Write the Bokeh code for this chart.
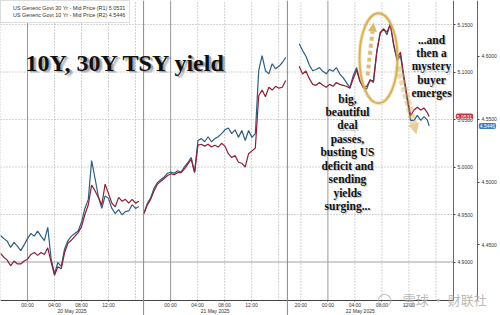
import numpy as np
from bokeh.plotting import figure
from bokeh.models import (Range1d, LinearAxis, FixedTicker, Span, Label, Legend, LegendItem,
                          Arrow, NormalHead, ColumnDataSource, NumeralTickFormatter)
from bokeh.embed import file_html
from bokeh.resources import INLINE

NaN = float("nan")

# trading-time axis (hours on the compressed session timeline)
hours = [0.0, 0.5, 1.0, 1.5, 2.0, 2.5, 3.0, 3.5, 4.0, 4.5, 5.0, 5.5, 6.0, 6.5, 7.0, 7.5, 8.0, 8.5, 9.0, 9.5,
         10.0, 10.5, 11.0, 11.5, 12.0, 12.5, 13.0, 13.5, 14.0, 14.5, 15.0, 15.5, 16.0, 16.5, 17.0, 17.5,
         18.0, 18.5, 19.0, 19.5, 20.0, 20.5, 21.0,
         21.25, 21.75, 22.25, 22.75, 23.25, 23.75, 24.25, 24.75, 25.25, 25.75, 26.25, 26.75, 27.25, 27.75,
         28.25, 28.75, 29.25, 29.75, 30.25, 30.75, 31.25, 31.75, 32.25, 32.75, 33.25, 33.75, 34.25, 34.75,
         35.25, 35.75, 36.25, 36.75, 37.25, 37.75, 38.25, 38.75, 39.25, 39.75, 40.25, 40.75, 41.25, 41.75,
         42.25, 42.75,
         44.25, 44.75, 45.25, 45.75, 46.25, 46.75, 47.25, 47.75, 48.25, 48.75, 49.25, 49.75, 50.25, 50.75,
         51.25, 51.75, 52.25, 52.75, 53.25, 53.75, 54.25, 54.75, 55.25, 55.75, 56.25, 56.75, 57.25, 57.75,
         58.25, 58.75, 59.25, 59.75, 60.25, 60.75, 61.25, 61.75, 62.25, 62.75, 63.25, 63.5]

y30 = [4.909, 4.905, 4.902, 4.896, 4.901, 4.898, 4.898, 4.901, 4.903, 4.908, 4.910, 4.907, 4.910, 4.908,
       4.915, 4.900, 4.886, 4.895, 4.893, 4.910, 4.920, 4.923, 4.927, 4.931, 4.937, 4.950, 4.960, 4.981,
       4.975, 4.968, 4.960, 4.982, 4.972, 4.962, 4.958, 4.968, 4.964, 4.966, 4.962, 4.966, 4.962, 4.964, NaN,
       4.951, 4.960, 4.966, 4.975, 4.982, 4.985, 4.988, 4.991, 4.993, 4.992, 4.994, 4.994, 4.998, 5.003,
       5.008, 4.994, 5.023, 5.024, 5.022, 5.024, 5.021, 5.023, 5.021, 5.025, 5.022, 5.014, 5.010, 5.012,
       5.005, 5.004, 5.000, 5.014, 5.017, 5.020, 5.075, 5.081, 5.074, 5.084, 5.081, 5.085, 5.083, 5.084,
       5.091, NaN,
       5.106, 5.098, 5.101, 5.093, 5.087, 5.086, 5.089, 5.086, 5.084, 5.087, 5.085, 5.089, 5.087, 5.086,
       5.085, 5.083, 5.093, 5.102, 5.090, 5.084, 5.085, 5.091, 5.091, 5.121, 5.141, 5.145, 5.142, 5.150,
       5.129, 5.114, 5.121, 5.096, 5.074, 5.054, 5.060, 5.063, 5.060, 5.062, 5.057, 5.0531]

y10 = [4.4575, 4.455, 4.453, 4.448, 4.452, 4.449, 4.4455, 4.450, 4.455, 4.459, 4.457, 4.461, 4.457, 4.4535,
       4.464, 4.439, 4.427, 4.436, 4.433, 4.447, 4.4535, 4.457, 4.459, 4.461, 4.468, 4.479, 4.486, 4.517,
       4.503, 4.4885, 4.479, 4.489, 4.487, 4.479, 4.475, 4.478, 4.474, 4.4765, 4.477, 4.482, 4.479, 4.4805, NaN,
       4.475, 4.483, 4.4875, 4.495, 4.4995, 4.502, 4.504, 4.507, 4.508, 4.507, 4.509, 4.508, 4.512, 4.5155,
       4.5195, 4.508, 4.533, 4.5345, 4.532, 4.536, 4.532, 4.5345, 4.536, 4.5385, 4.5415, 4.543, 4.5385, 4.5415,
       4.5355, 4.541, 4.533, 4.541, 4.5355, 4.5385, 4.5885, 4.6005, 4.5885, 4.586, 4.594, 4.590, 4.592, 4.595,
       4.599, NaN,
       4.610, 4.6045, 4.600, 4.593, 4.5885, 4.5895, 4.591, 4.588, 4.586, 4.5895, 4.588, 4.591, 4.586, 4.583,
       4.579, 4.575, 4.5845, 4.591, 4.5805, 4.575, 4.574, 4.5815, 4.579, 4.6045, 4.619, 4.622, 4.617, 4.626,
       4.6085, 4.5965, 4.6005, 4.582, 4.565, 4.549, 4.549, 4.553, 4.549, 4.552, 4.549, 4.5446]

time_ticks = [4, 8, 12, 16, 25.2, 29.2, 33.2, 37.2, 44.5, 48.5, 52.5, 56.5, 60.5]
time_labels = ["00:00", "04:00", "08:00", "12:00", "00:00", "04:00", "08:00", "12:00",
               "20:00", "00:00", "04:00", "08:00", "12:00"]
dotted_grid = [0, 8, 12, 16, 20, 29.2, 33.2, 37.2, 41.2, 44.5, 52.5, 56.5, 60.5, 64.5]
midnights = [4, 25.2, 48.5]
session_breaks = [21.2, 42.5]
date_centers = [10.6, 31.8, 53.3]
date_labels = ["20 May 2025", "21 May 2025", "22 May 2025"]
r1_ticks = [4.90, 4.95, 5.00, 5.05, 5.10, 5.15]
r2_ticks = [4.45, 4.50, 4.55, 4.60]
last30 = 5.0531
last10 = 4.5446

# plotting area bounds (R1 units / trading hours)
X_END, X_R2 = 67.1, 70.67
Y_BOT, Y_TOP = 4.8595, 5.1753
R2_BOT, R2_TOP = 4.4058, 4.6443

RED = "#8E1F35"
BLUE = "#2F5E82"
GOLD = "#D6AE52"
FONT = "Liberation Sans"
SERIF = "Liberation Serif"

p = figure(width=500, height=315, output_backend="svg", toolbar_location=None,
           x_range=Range1d(0, 74.07), y_range=Range1d(4.8437, Y_TOP),
           y_axis_location="right", min_border_left=0, min_border_top=0,
           min_border_right=0, min_border_bottom=0)
p.extra_y_ranges = {"r2": Range1d(4.3939, R2_TOP)}
p.outline_line_color = None
p.background_fill_color = "white"
p.grid.visible = False

# grid lines limited to the plotting area
n_h = len(r1_ticks) - 1
p.segment(x0=[0] * n_h, x1=[X_END] * n_h, y0=r1_ticks[1:], y1=r1_ticks[1:],
          line_color="#a8a8a8", line_dash="1 2", line_width=1)
p.segment(x0=[0], x1=[X_END], y0=r1_ticks[:1], y1=r1_ticks[:1],
          line_color="#444444", line_dash="1 1", line_width=1)
n_v = len(dotted_grid)
p.segment(x0=dotted_grid, x1=dotted_grid, y0=[Y_BOT] * n_v, y1=[Y_TOP] * n_v,
          line_color="#a8a8a8", line_dash="1 2", line_width=1)
n_m = len(midnights)
p.segment(x0=midnights, x1=midnights, y0=[Y_BOT] * n_m, y1=[Y_TOP] * n_m,
          line_color="#999999", line_width=1)
for s in session_breaks:
    p.add_layout(Span(location=s, dimension="height", line_color="#888888", line_width=1))

# axes (drawn at fixed locations inside the canvas)
xa = p.xaxis[0]
xa.fixed_location = Y_BOT
xa.bounds = (0, X_END)
xa.ticker = FixedTicker(ticks=time_ticks)
xa.major_label_overrides = {t: l for t, l in zip(time_ticks, time_labels)}
xa.major_label_text_font = FONT
xa.major_label_text_font_size = "5px"
xa.major_label_text_color = "#333333"
xa.major_tick_out = 1
xa.major_tick_in = 0
xa.major_tick_line_color = "#555555"
xa.minor_tick_line_color = None
xa.major_label_standoff = 1
xa.axis_line_color = "#444444"

da = LinearAxis(fixed_location=Y_BOT, ticker=FixedTicker(ticks=date_centers),
                major_label_overrides={c: l for c, l in zip(date_centers, date_labels)},
                axis_line_color=None, major_tick_line_color=None, minor_tick_line_color=None,
                major_tick_out=0, major_label_standoff=8, major_label_text_font=FONT,
                major_label_text_font_size="5px", major_label_text_color="#333333")
p.add_layout(da, "below")

ya = p.yaxis[0]
ya.fixed_location = X_END
ya.bounds = (Y_BOT, Y_TOP)
ya.ticker = FixedTicker(ticks=r1_ticks)
ya.formatter = NumeralTickFormatter(format="0.0000")
ra = LinearAxis(y_range_name="r2", fixed_location=X_R2, bounds=(R2_BOT, R2_TOP),
                ticker=FixedTicker(ticks=r2_ticks), formatter=NumeralTickFormatter(format="0.0000"))
p.add_layout(ra, "right")
for ax in (ya, ra):
    ax.major_label_text_font = FONT
    ax.major_label_text_font_size = "5px"
    ax.major_label_text_color = "#333333"
    ax.major_tick_out = 2
    ax.major_tick_in = 0
    ax.major_tick_line_color = "#444444"
    ax.minor_tick_line_color = None
    ax.axis_line_color = "#666666"
    ax.major_label_standoff = 2

# series
src = ColumnDataSource(dict(h=np.array(hours), y30=np.array(y30), y10=np.array(y10)))
r10 = p.line("h", "y10", source=src, y_range_name="r2", line_color=BLUE, line_width=1.2)
r30 = p.line("h", "y30", source=src, line_color=RED, line_width=1.2)

# legend
sq30 = p.scatter(x=[], y=[], marker="square", size=5, fill_color="#8B1A2E", line_color="#5a1020")
sq10 = p.scatter(x=[], y=[], marker="square", size=5, fill_color="#2D6296", line_color="#1d3f60")
legend = Legend(items=[
    LegendItem(label=f"US Generic Govt 30 Yr - Mid Price (R1) {last30:.4f}", renderers=[sq30]),
    LegendItem(label=f"US Generic Govt 10 Yr - Mid Price (R2) {last10:.4f}", renderers=[sq10]),
], location="top_left", margin=0, padding=4, spacing=1, glyph_width=5, glyph_height=5,
    label_height=5, label_standoff=3, label_text_font=FONT, label_text_font_size="5.4px",
    label_text_color="#333333", border_line_color="#bbbbbb", background_fill_alpha=1)
p.add_layout(legend)

# title with shadow
title_txt = "10Y, 30Y TSY yield"
for dx, dy, a in [(0.45, -0.0030, 0.3), (0.3, -0.0020, 0.5)]:
    p.add_layout(Label(x=3.7 + dx, y=5.11 + dy, text=title_txt, text_font=SERIF,
                       text_font_style="bold", text_font_size="24px", text_color="#777777",
                       text_alpha=a, text_baseline="alphabetic"))
p.add_layout(Label(x=3.7, y=5.11, text=title_txt, text_font=SERIF, text_font_style="bold",
                   text_font_size="24px", text_color="#111111", text_baseline="alphabetic"))

# annotations
note1 = "big,\nbeautiful\ndeal\npasses,\nbusting US\ndeficit and\nsending\nyields\nsurging..."
note2 = "...and\nthen a\nmystery\nbuyer\nemerges"
for txt, x, y in [(note1, 51.4, 5.0784), (note2, 63.85, 5.1405)]:
    p.add_layout(Label(x=x + 0.18, y=y - 0.0012, text=txt, text_align="center", text_baseline="top",
                       text_font=SERIF, text_font_style="bold", text_font_size="11.5px",
                       text_line_height=1.12, text_color="#999999", text_alpha=0.5))
    p.add_layout(Label(x=x, y=y, text=txt, text_align="center", text_baseline="top",
                       text_font=SERIF, text_font_style="bold", text_font_size="11.5px",
                       text_line_height=1.12, text_color="#111111"))

# ellipse and arrows
p.ellipse(x=[56.0], y=[5.1145], width=[5.63], height=[0.0947], fill_color=None,
          line_color=GOLD, line_width=4, line_alpha=0.3)
p.ellipse(x=[56.0], y=[5.1145], width=[5.63], height=[0.0947], fill_color=None,
          line_color=GOLD, line_width=2, line_alpha=0.95)
p.add_layout(Arrow(end=NormalHead(size=9, fill_color=GOLD, line_color=None, fill_alpha=0.85),
                   x_start=54.37, y_start=5.0963, x_end=55.26, y_end=5.1521,
                   line_color=GOLD, line_width=4, line_dash="4 3", line_alpha=0.8))
p.add_layout(Arrow(end=NormalHead(size=11, fill_color=GOLD, line_color=None, fill_alpha=0.6),
                   x_start=58.96, y_start=5.1058, x_end=61.63, y_end=5.0342,
                   line_color=GOLD, line_width=7, line_dash="5 2", line_alpha=0.45))

# last-value badges on the axes
p.add_layout(Label(x=67.45, y=last30, text=f"{last30:.4f}", text_color="white", text_font=FONT,
                   text_font_size="5px", text_baseline="middle", background_fill_color="#C4343F",
                   border_radius=2, padding=1))
p.add_layout(Label(x=70.85, y=last10, y_range_name="r2", text=f"{last10:.4f}", text_color="white",
                   text_font=FONT, text_font_size="5px", text_baseline="middle",
                   background_fill_color="#3C7DBA", border_radius=2, padding=1))

# watermark
p.add_layout(Label(x=56.9, y=4.8605, text="◯", text_font="DejaVu Sans", text_font_size="13px",
                   text_align="center", text_baseline="middle", text_color="#b0b0b0", text_alpha=0.9))
p.add_layout(Label(x=59.6, y=4.8605, text="雪球 · 财联社", text_font="Noto Sans CJK SC",
                   text_font_size="13px", text_baseline="middle", text_color="#b0b0b0", text_alpha=0.9))

open("out.html", "w").write(file_html(p, INLINE))
